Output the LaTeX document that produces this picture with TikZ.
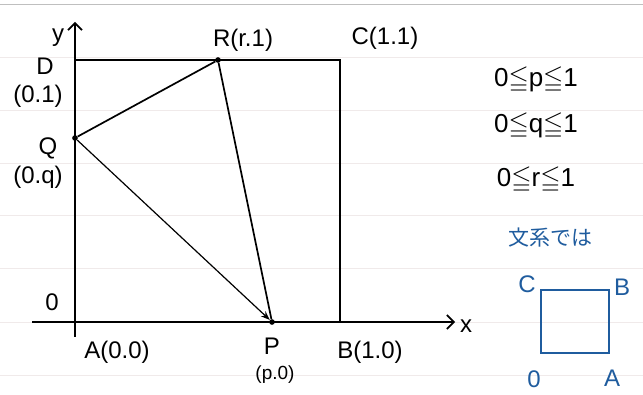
\documentclass[tikz,border=0pt]{standalone}
\usepackage{amssymb}
\usepackage{fontspec}
\setmainfont{Liberation Sans}
\newfontfamily\jpfont{Noto Sans CJK JP}
\usetikzlibrary{arrows.meta}
\definecolor{ink}{HTML}{1F5C9E}
\definecolor{ruled}{HTML}{F0EAEA}
\begin{document}
\begin{tikzpicture}[x=1pt, y=-1pt, lbl/.style={inner sep=0pt, font=\fontsize{24}{26}\selectfont},
    dot/.style={circle, fill, inner sep=2pt}, axis/.style={line width=1.6pt, -{Straight Barb[length=7pt, width=14pt]}}]
\useasboundingbox (0,0) rectangle (643,395);
% notebook rules
\draw[gray!50] (0,4) -- (643,4);
\foreach \y in {57,110,163,215,268,322,375} \draw[ruled] (0,\y) -- (643,\y);
% axes
\coordinate (xs) at (32,322); \coordinate (xe) at (455,322);
\coordinate (ys) at (75,337); \coordinate (ye) at (75,22);
\draw[axis] (xs) -- (xe);
\draw[axis] (ys) -- (ye);
% square and points
\coordinate (A) at (75,322); \coordinate (B) at (340,322); \coordinate (C) at (340,60); \coordinate (D) at (75,60);
\node[dot] (P) at (272,322) {}; \node[dot] (Q) at (75,138) {}; \node[dot] (R) at (218,60) {};
\draw[line width=1.7pt] (D) -- (C) -- (B);
\draw[line width=1.7pt] (Q) -- (R) -- (P);
\draw[line width=1.2pt, -{Stealth[length=9pt]}] (Q) -- (P);
% labels
\node[lbl] (ly) at (58,38) {y}; \node[lbl] (lx) at (466,326) {x};
\node[lbl] (lR) at (243,40) {R(r.1)}; \node[lbl] (lC) at (385,38) {C(1.1)};
\node[lbl] (lD) at (45,66) {D}; \node[lbl] (lD2) at (38,96) {(0.1)};
\node[lbl] (lQ) at (48,148) {Q}; \node[lbl] (lQ2) at (38,177) {(0.q)};
\node[lbl] (lO) at (52,302) {0};
\node[lbl] (lA) at (117,352) {A(0.0)};
\node[lbl] (lP) at (272,346) {P}; \node[lbl, font=\fontsize{19}{22}\selectfont] (lP2) at (275,375) {(p.0)};
\node[lbl] (lB) at (370,352) {B(1.0)};
% ranges
\node[lbl, font=\fontsize{26}{28}\selectfont] (rp) at (536,80) {0$\leqq$p$\leqq$1};
\node[lbl, font=\fontsize{26}{28}\selectfont] (rq) at (536,126) {0$\leqq$q$\leqq$1};
\node[lbl, font=\fontsize{26}{28}\selectfont] (rr) at (536,180) {0$\leqq$r$\leqq$1};
% blue note
\node[lbl, ink, font=\jpfont\fontsize{21}{24}\selectfont] (note) at (550,238) {文系では};
\draw[ink, line width=1.6pt] (541,290) rectangle (609,353);
\node[lbl, ink] (bC) at (527,284) {C}; \node[lbl, ink] (bB) at (622,287) {B};
\node[lbl, ink] (bO) at (534,379) {0}; \node[lbl, ink] (bA) at (612,378) {A};
\end{tikzpicture}
\end{document}
